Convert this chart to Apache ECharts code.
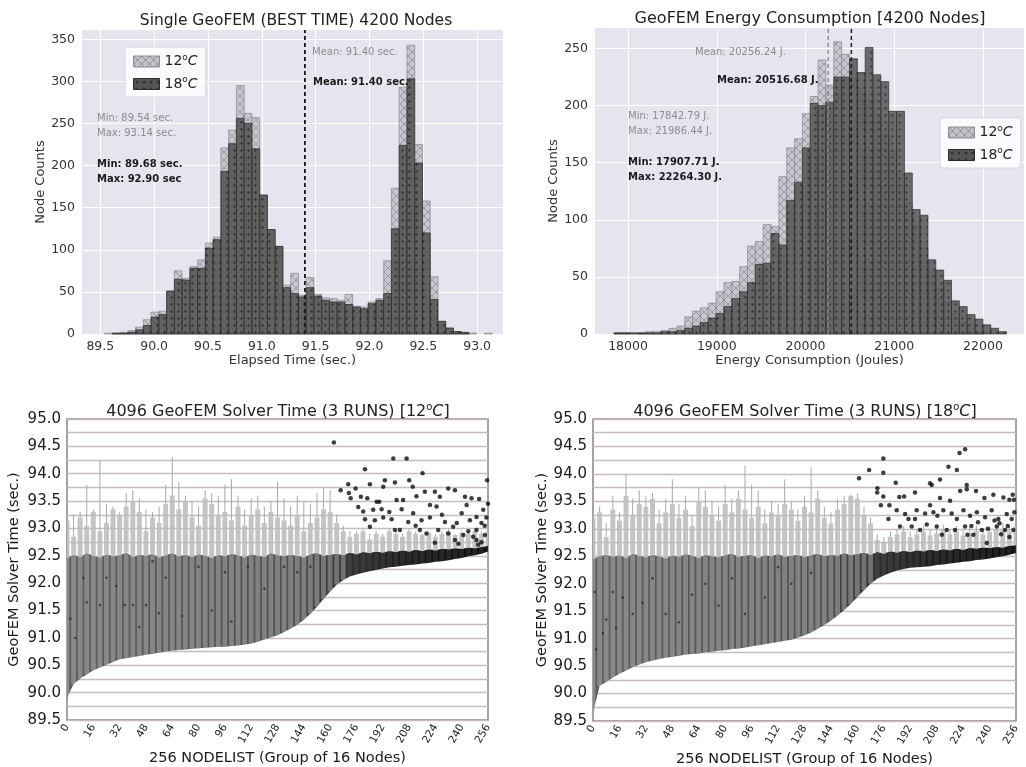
<!DOCTYPE html>
<html>
<head>
<meta charset="utf-8">
<title>GeoFEM node variability</title>
<script src="https://cdn.jsdelivr.net/npm/echarts@6/dist/echarts.min.js"></script>
<style>
  html, body { margin: 0; padding: 0; background: #fff; }
  #main { width: 1026px; height: 767px; }
</style>
</head>
<body>
<div id="main"></div>
<script>
// ---- histogram data (50 shared bins per panel) ----
const binCount = 50;
const timeRange = [89.54, 93.14];          // sec.
const energyRange = [17842.79, 22264.30];  // J.

const timeCount12 = [1, 1, 2, 4, 8, 17, 26, 27, 51, 75, 66, 80, 88, 108, 115, 221, 242, 295, 262, 257,
  165, 124, 104, 58, 72, 46, 67, 47, 43, 42, 40, 47, 33, 32, 38, 42, 87, 173, 293, 343,
  225, 158, 68, 15, 7, 3, 1, 1, 0, 1];
const timeCount18 = [0, 1, 1, 2, 5, 10, 20, 23, 51, 65, 64, 78, 78, 102, 112, 193, 226, 256, 250, 220,
  165, 124, 104, 55, 48, 44, 55, 45, 40, 38, 38, 35, 32, 30, 36, 40, 48, 125, 224, 303,
  203, 120, 41, 15, 7, 3, 2, 0, 0, 0];

const energyCount12 = [1, 1, 0, 1, 2, 2, 3, 5, 7, 15, 20, 23, 27, 37, 45, 46, 59, 77, 81, 96,
  94, 138, 163, 171, 193, 208, 240, 218, 256, 245, 225, 215, 205, 190, 175, 160, 140, 115, 95, 75,
  55, 40, 28, 18, 10, 5, 2, 0, 0, 0];
const energyCount18 = [1, 1, 1, 1, 1, 1, 2, 2, 3, 5, 7, 10, 14, 18, 24, 31, 37, 45, 61, 62,
  88, 78, 117, 133, 163, 202, 200, 203, 225, 225, 241, 229, 251, 227, 221, 195, 195, 141, 109, 104,
  65, 56, 47, 29, 24, 17, 13, 8, 5, 2];

const timeMean12 = 91.40, timeMean18 = 91.40;
const energyMean12 = 20256.24, energyMean18 = 20516.68;

const timeTicks = [89.5, 90.0, 90.5, 91.0, 91.5, 92.0, 92.5, 93.0];
const timeCountTicks = [0, 50, 100, 150, 200, 250, 300, 350];
const energyTicks = [18000, 19000, 20000, 21000, 22000];
const energyCountTicks = [0, 50, 100, 150, 200, 250];

// ---- solver time per node group (sampled every 4 groups) ----
const nodePos = [0, 4, 8, 12, 16, 20, 24, 28, 32, 36, 40, 44, 48, 52, 56, 60, 64, 68, 72, 76,
  80, 84, 88, 92, 96, 100, 104, 108, 112, 116, 120, 124, 128, 132, 136, 140, 144, 148, 152, 156,
  160, 164, 168, 172, 176, 180, 184, 188, 192, 196, 200, 204, 208, 212, 216, 220, 224, 228, 232, 236,
  240, 244, 248, 252, 256];

const low12 = [89.90, 90.16, 90.26, 90.33, 90.41, 90.46, 90.51, 90.56, 90.61, 90.63, 90.65, 90.67, 90.69, 90.71, 90.73, 90.75, 90.77, 90.78, 90.79, 90.80,
  90.81, 90.82, 90.83, 90.84, 90.84, 90.85, 90.86, 90.88, 90.90, 90.93, 90.97, 91.01, 91.05, 91.11, 91.17, 91.24, 91.33, 91.44, 91.57, 91.71,
  91.85, 91.97, 92.06, 92.12, 92.16, 92.19, 92.22, 92.24, 92.27, 92.29, 92.30, 92.32, 92.33, 92.34, 92.36, 92.37, 92.39, 92.40, 92.42, 92.44,
  92.46, 92.49, 92.51, 92.54, 92.58];
const mid12 = [92.46, 92.52, 92.48, 92.55, 92.50, 92.47, 92.53, 92.49, 92.51, 92.56, 92.48, 92.52, 92.50, 92.54, 92.47, 92.51, 92.55, 92.49, 92.52, 92.48,
  92.53, 92.50, 92.46, 92.52, 92.49, 92.54, 92.51, 92.47, 92.53, 92.50, 92.48, 92.55, 92.51, 92.49, 92.52, 92.50, 92.47, 92.53, 92.55, 92.50,
  92.52, 92.54, 92.51, 92.56, 92.53, 92.57, 92.55, 92.58, 92.56, 92.59, 92.57, 92.60, 92.58, 92.61, 92.59, 92.62, 92.60, 92.63, 92.62, 92.64,
  92.63, 92.65, 92.64, 92.66, 92.68];
const high12 = [93.15, 92.85, 93.20, 93.05, 93.30, 92.95, 93.10, 93.35, 93.25, 93.40, 93.50, 93.30, 92.95, 93.20, 93.10, 93.45, 93.60, 93.35, 93.50, 93.20,
  93.05, 93.55, 93.45, 93.25, 93.30, 93.15, 93.40, 93.05, 93.25, 93.35, 93.10, 93.30, 93.20, 93.15, 93.05, 93.25, 92.95, 93.10, 93.20, 93.35,
  93.30, 93.10, 92.95, 92.85, 92.90, 92.95, 92.80, 92.90, 92.85, 92.95, 92.90, 92.85, 92.95, 92.90, 92.88, 92.92, 92.85, 92.90, 92.95, 92.88,
  92.92, 92.90, 92.95, 92.90, 92.95];
const whisker12 = [93.20, 93.25, 93.30, 93.80, 93.35, 94.25, 93.45, 93.40, 93.30, 93.65, 93.70, 93.55, 93.35, 93.30, 93.40, 93.80, 94.30, 93.85, 93.60, 93.50,
  93.40, 93.70, 93.65, 93.60, 93.80, 93.90, 93.60, 93.35, 93.55, 93.60, 93.40, 93.50, 93.85, 93.55, 93.40, 93.60, 93.50, 93.45, 93.65, 93.75,
  93.70, 93.25, 93.05, 92.95, 92.95, 93.00, 92.90, 92.95, 92.90, 93.00, 92.95, 92.90, 93.00, 92.95, 92.90, 92.95, 92.90, 92.95, 93.00, 92.90,
  92.95, 92.95, 93.00, 92.95, 93.00];

const low18 = [89.65, 90.14, 90.21, 90.29, 90.36, 90.42, 90.48, 90.53, 90.57, 90.60, 90.63, 90.65, 90.67, 90.69, 90.71, 90.72, 90.73, 90.75, 90.76, 90.78,
  90.79, 90.81, 90.82, 90.84, 90.86, 90.88, 90.90, 90.92, 90.94, 90.96, 90.98, 91.02, 91.06, 91.11, 91.18, 91.25, 91.33, 91.42, 91.52, 91.63,
  91.76, 91.88, 92.00, 92.09, 92.15, 92.20, 92.24, 92.27, 92.29, 92.30, 92.31, 92.32, 92.34, 92.35, 92.37, 92.38, 92.40, 92.41, 92.43, 92.44,
  92.46, 92.48, 92.50, 92.53, 92.56];
const mid18 = [92.45, 92.50, 92.53, 92.49, 92.52, 92.47, 92.55, 92.51, 92.48, 92.53, 92.50, 92.46, 92.52, 92.49, 92.54, 92.51, 92.47, 92.53, 92.50, 92.48,
  92.52, 92.55, 92.49, 92.51, 92.53, 92.47, 92.52, 92.50, 92.54, 92.49, 92.51, 92.53, 92.48, 92.52, 92.55, 92.50, 92.53, 92.51, 92.56, 92.52,
  92.54, 92.57, 92.53, 92.58, 92.55, 92.59, 92.57, 92.60, 92.58, 92.61, 92.59, 92.62, 92.60, 92.63, 92.61, 92.64, 92.62, 92.65, 92.64, 92.66,
  92.65, 92.67, 92.66, 92.69, 92.70];
const high18 = [93.20, 93.30, 92.85, 93.35, 93.15, 93.60, 93.25, 93.45, 93.40, 93.55, 93.10, 93.30, 93.45, 93.20, 93.35, 93.05, 93.50, 93.40, 93.25, 93.15,
  93.45, 93.30, 93.55, 93.35, 93.20, 93.40, 93.10, 93.30, 93.25, 93.45, 93.35, 93.15, 93.40, 93.30, 93.55, 93.20, 93.10, 93.35, 93.45, 93.60,
  93.55, 93.25, 93.10, 92.80, 92.75, 92.85, 92.90, 92.95, 92.85, 92.90, 92.95, 92.88, 92.92, 92.98, 92.90, 92.95, 92.88, 92.92, 92.96, 92.90,
  92.94, 92.98, 93.00, 92.95, 93.05];
const whisker18 = [93.30, 93.40, 93.10, 93.60, 93.30, 94.00, 93.55, 93.70, 93.60, 93.65, 93.35, 93.55, 93.90, 93.45, 93.60, 93.25, 93.75, 93.70, 93.50, 93.40,
  93.80, 93.55, 93.70, 94.15, 93.80, 93.70, 93.35, 93.50, 93.45, 93.90, 93.50, 93.35, 93.60, 94.12, 93.70, 93.40, 93.30, 93.55, 93.60, 93.62,
  93.65, 93.40, 93.20, 92.90, 92.85, 92.95, 93.00, 93.05, 92.95, 93.00, 93.05, 92.98, 93.02, 93.08, 93.00, 93.05, 92.98, 93.02, 93.06, 93.00,
  93.04, 93.08, 93.10, 93.05, 93.15];

const outliers12 = [[162.3, 94.57], [198.4, 94.28], [206.5, 94.28], [181.2, 94.08], [216.2, 94.01], [255.5, 93.88], [184.2, 93.81], [192.3, 93.76],
  [199.4, 93.84], [208.1, 93.88], [210.2, 93.76], [166.4, 93.70], [171.0, 93.81], [175.5, 93.73], [171.4, 93.65], [178.7, 93.58], [172.5, 93.55],
  [182.6, 93.55], [188.3, 93.49], [189.9, 93.49], [200.4, 93.52], [204.4, 93.52], [212.5, 93.59], [217.6, 93.67], [223.7, 93.67], [226.7, 93.58],
  [231.8, 93.73], [235.9, 93.70], [242.0, 93.58], [246.0, 93.55], [250.6, 93.54], [177.1, 93.39], [180.1, 93.31], [186.2, 93.34], [191.3, 93.35],
  [181.2, 93.17], [187.2, 93.15], [192.3, 93.20], [203.5, 93.35], [210.5, 93.28], [215.6, 93.15], [220.7, 93.20], [224.7, 93.40], [229.8, 93.12],
  [234.8, 93.03], [240.0, 93.28], [245.0, 93.15], [249.0, 92.97], [253.1, 93.34], [254.1, 92.88], [199.4, 92.97], [202.4, 92.97], [207.5, 93.12],
  [214.6, 92.97], [218.6, 92.91], [223.7, 92.74], [235.9, 92.79], [241.0, 92.88], [249.0, 92.79], [184.2, 93.03], [197.4, 93.17], [225.7, 92.97],
  [231.8, 92.91], [249.0, 93.21], [243.0, 93.43], [220.7, 93.43], [193.3, 93.88], [252.0, 92.75], [254.0, 93.05], [250.0, 92.70], [255.0, 93.20],
  [247.0, 92.85], [244.0, 92.95], [238.0, 92.72], [252.0, 93.10], [228.0, 93.25], [237.0, 93.10], [212.0, 93.05], [196.0, 93.30], [256.0, 93.45]];
const outliers18 = [[225.2, 94.45], [221.8, 94.38], [175.7, 94.28], [215.1, 94.13], [220.2, 94.07], [167.1, 94.07], [175.7, 94.02], [161.0, 93.92],
  [210.0, 93.90], [183.2, 93.84], [204.0, 93.83], [205.0, 93.80], [172.1, 93.74], [172.0, 93.66], [194.9, 93.66], [185.4, 93.58], [188.3, 93.59],
  [175.7, 93.59], [226.2, 93.80], [226.2, 93.72], [231.8, 93.69], [242.3, 93.62], [248.4, 93.57], [254.0, 93.62], [254.8, 93.53], [252.0, 93.53],
  [236.9, 93.56], [222.2, 93.69], [210.0, 93.56], [216.1, 93.51], [174.2, 93.43], [179.4, 93.43], [183.8, 93.34], [188.9, 93.27], [190.9, 93.18],
  [195.9, 93.34], [201.0, 93.28], [204.0, 93.43], [206.0, 93.30], [208.4, 93.24], [212.0, 93.34], [217.1, 93.28], [220.2, 93.18], [224.2, 93.34],
  [228.2, 93.24], [232.3, 93.30], [237.3, 93.21], [241.3, 93.34], [245.3, 93.18], [250.4, 93.27], [253.4, 93.18], [178.8, 93.18], [185.8, 93.04],
  [192.9, 93.04], [197.9, 92.98], [202.0, 93.08], [208.0, 93.04], [214.1, 92.98], [219.1, 92.98], [225.2, 93.04], [230.2, 92.89], [235.3, 92.98],
  [238.3, 92.74], [244.4, 93.04], [249.4, 92.98], [254.4, 92.98], [194.9, 93.18], [211.1, 92.89], [226.6, 92.89], [246.0, 93.10], [251.0, 93.05],
  [255.0, 93.30], [243.0, 93.15], [239.0, 93.00], [233.0, 93.12], [229.0, 93.05], [247.0, 92.90], [252.0, 92.85]];

const inner12 = [[2, 91.35], [5, 91.0], [10, 92.1], [12, 91.65], [20, 91.6], [24, 92.1], [30, 91.95], [35, 91.6], [40, 91.6], [44, 91.2], [48, 91.6],
  [52, 92.4], [56, 91.45], [60, 92.1], [70, 91.4], [80, 92.3], [88, 91.5], [96, 92.2], [100, 91.3], [110, 92.3], [120, 91.9], [132, 92.3],
  [140, 92.2], [148, 92.3]];
const inner18 = [[1, 91.85], [2, 90.8], [6, 91.1], [8, 91.35], [12, 91.85], [14, 91.2], [18, 91.75], [24, 91.45], [30, 91.65], [36, 92.1],
  [44, 91.45], [52, 91.3], [60, 91.8], [68, 92.0], [76, 91.6], [84, 92.1], [92, 91.45], [104, 91.75], [112, 92.3], [120, 92.0], [132, 92.2]];

// ---- helpers ----
const FONT = 'DejaVu Sans';

function histData(range, counts) {
  const w = (range[1] - range[0]) / binCount;
  return counts.map((c, i) => [range[0] + i * w, range[0] + (i + 1) * w, c]);
}

function makeCross() {
  const c = document.createElement('canvas');
  c.width = 8; c.height = 8;
  const g = c.getContext('2d');
  g.fillStyle = '#c3c4ca';
  g.fillRect(0, 0, 8, 8);
  g.strokeStyle = '#8a8b92';
  g.lineWidth = 0.9;
  g.beginPath();
  g.moveTo(0, 0); g.lineTo(8, 8);
  g.moveTo(8, 0); g.lineTo(0, 8);
  g.stroke();
  return c;
}
function makeDots() {
  const c = document.createElement('canvas');
  c.width = 7; c.height = 7;
  const g = c.getContext('2d');
  g.fillStyle = '#555555';
  g.fillRect(0, 0, 7, 7);
  g.fillStyle = '#1c1c1c';
  g.beginPath();
  g.arc(3.5, 3.5, 1.15, 0, Math.PI * 2);
  g.fill();
  return c;
}
const fill12 = { image: makeCross(), repeat: 'repeat' };
const fill18 = { image: makeDots(), repeat: 'repeat' };

function renderHist(fill, stroke, opacity) {
  return function (params, api) {
    const c = api.value(2);
    if (!c) return null;
    const p0 = api.coord([api.value(0), c]);
    const p1 = api.coord([api.value(1), 0]);
    return {
      type: 'rect',
      shape: { x: p0[0], y: p0[1], width: p1[0] - p0[0], height: p1[1] - p0[1] },
      style: { fill: fill, stroke: stroke, lineWidth: 0.8, opacity: opacity }
    };
  };
}

// dark band between the sorted lower curve and the ~92.5 line
function renderBand(params, api) {
  if (params.dataIndexInside !== 0) return null;
  const top = [], bot = [];
  for (let i = 0; i < params.dataInsideLength; i++) {
    const x = api.value(0, i);
    top.push(api.coord([x, api.value(2, i)]));
    bot.push(api.coord([x, api.value(1, i)]));
  }
  return {
    type: 'polygon',
    shape: { points: top.concat(bot.reverse()) },
    style: {
      fill: new echarts.graphic.LinearGradient(0, 0, 1, 0, [
        { offset: 0, color: '#5c5c5c' },
        { offset: 0.55, color: '#4e4e4e' },
        { offset: 0.68, color: '#2c2c2c' },
        { offset: 0.8, color: '#191919' },
        { offset: 1, color: '#0c0c0c' }
      ])
    }
  };
}

// light bars + error whiskers for each node group
function renderColumn(params, api) {
  const x = api.value(0);
  const w = api.size([3.0, 0])[0];
  const pLow = api.coord([x, api.value(1)]);
  const pMid = api.coord([x, api.value(2)]);
  const pHigh = api.coord([x, api.value(3)]);
  const pWh = api.coord([x, api.value(4)]);
  const shade = x > 168 ? 0.1 : 0.4;
  return {
    type: 'group',
    children: [
      { type: 'rect', shape: { x: pLow[0] - w / 2, y: pMid[1], width: w, height: pLow[1] - pMid[1] },
        style: { fill: 'rgba(205,205,205,' + shade + ')' } },
      { type: 'rect', shape: { x: pHigh[0] - w / 2, y: pHigh[1], width: w, height: pMid[1] - pHigh[1] },
        style: { fill: 'rgba(188,188,188,0.88)' } },
      { type: 'line', shape: { x1: pWh[0], y1: pWh[1], x2: pHigh[0], y2: pHigh[1] },
        style: { stroke: '#a8a8a8', lineWidth: 1 } }
    ]
  };
}

function histAxisX(grid, min, max, ticks, name, digits) {
  return {
    type: 'value', gridIndex: grid, min: min, max: max,
    name: name, nameLocation: 'middle', nameGap: 19,
    nameTextStyle: { fontSize: 13, color: '#333', fontFamily: FONT },
    axisLine: { show: false }, axisTick: { show: false, customValues: ticks },
    axisLabel: { customValues: ticks, fontSize: 12.5, color: '#333', margin: 6, fontFamily: FONT,
      formatter: v => v.toFixed(digits) },
    splitLine: { show: true, lineStyle: { color: '#ffffff', width: 1 } }
  };
}
function histAxisY(grid, max, ticks) {
  return {
    type: 'value', gridIndex: grid, min: 0, max: max,
    name: 'Node Counts', nameLocation: 'middle', nameGap: 35,
    nameTextStyle: { fontSize: 13, color: '#333', fontFamily: FONT },
    axisLine: { show: false }, axisTick: { show: false, customValues: ticks },
    axisLabel: { customValues: ticks, fontSize: 12.5, color: '#333', margin: 7, fontFamily: FONT },
    splitLine: { show: true, lineStyle: { color: '#ffffff', width: 1 } }
  };
}
function solverAxisX(grid) {
  return {
    type: 'value', gridIndex: grid, min: 0, max: 256, interval: 16,
    name: '256 NODELIST (Group of 16 Nodes)', nameLocation: 'middle', nameGap: 31,
    nameTextStyle: { fontSize: 14.5, color: '#1a1a1a', fontFamily: FONT },
    axisLine: { show: false }, axisTick: { show: false },
    axisLabel: { rotate: 60, fontSize: 10.5, color: '#222', margin: 5, fontFamily: FONT },
    splitLine: { show: false }
  };
}
function solverAxisY(grid, gap) {
  // grid lines every 0.25 s, labels every 0.5 s
  return {
    type: 'value', gridIndex: grid, min: 89.5, max: 95.0, interval: 0.25,
    name: 'GeoFEM Solver Time (sec.)', nameLocation: 'middle', nameGap: gap,
    nameTextStyle: { fontSize: 14.5, color: '#1a1a1a', fontFamily: FONT },
    axisLine: { show: false }, axisTick: { show: false },
    axisLabel: { fontSize: 15, color: '#1a1a1a', margin: 6, fontFamily: FONT,
      formatter: v => (Math.abs(v * 2 - Math.round(v * 2)) < 1e-6 ? v.toFixed(1) : '') },
    splitLine: { show: true, lineStyle: { color: '#cbbcbc', width: 1.4 } }
  };
}

const legendRich = {
  sup: { fontSize: 9, padding: [0, 0, 8, 0], color: '#222', fontFamily: FONT },
  it: { fontSize: 14, fontStyle: 'italic', color: '#222', fontFamily: FONT }
};
function legendAt(left, top) {
  return {
    left: left, top: top, orient: 'vertical', icon: 'rect',
    itemWidth: 26, itemHeight: 11, itemGap: 7,
    padding: [6, 8, 6, 8],
    backgroundColor: 'rgba(255,255,255,0.85)', borderColor: '#d6d7de', borderWidth: 1, borderRadius: 3,
    selectedMode: false,
    data: [
      { name: '12°C', itemStyle: { color: fill12, borderColor: '#8a8b92', borderWidth: 1 } },
      { name: '18°C', itemStyle: { color: fill18, borderColor: '#2a2a2a', borderWidth: 1 } }
    ],
    formatter: name => name.replace('°C', '{sup|o}{it|C}'),
    textStyle: { fontSize: 14, color: '#222', fontFamily: FONT, rich: legendRich }
  };
}

const titleRich = {
  sup: { fontSize: 10, padding: [0, 0, 9, 0], color: '#222', fontFamily: FONT },
  it: { fontSize: 16, fontStyle: 'italic', color: '#222', fontFamily: FONT }
};
function titleAt(text, x, top, size) {
  return {
    text: text, left: x, top: top, textAlign: 'center', padding: 0,
    textStyle: { fontSize: size, fontWeight: 'normal', color: '#222', fontFamily: FONT, rich: titleRich }
  };
}

function note(text, left, top, color, bold) {
  return {
    type: 'text', left: left, top: top, z: 50,
    style: { text: text, fill: color, font: (bold ? 'bold ' : '') + '10px "DejaVu Sans"', lineHeight: 15 }
  };
}

const chart = echarts.init(document.getElementById('main'), null, { renderer: 'canvas' });

const option = {
  animation: false,
  backgroundColor: '#ffffff',
  textStyle: { fontFamily: FONT },
  title: [
    titleAt('Single GeoFEM (BEST TIME) 4200 Nodes', 296, 13, 15.5),
    titleAt('GeoFEM Energy Consumption [4200 Nodes]', 810, 11, 16),
    titleAt('4096 GeoFEM Solver Time (3 RUNS) [12{sup|o}{it|C}]', 278, 402, 16),
    titleAt('4096 GeoFEM Solver Time (3 RUNS) [18{sup|o}{it|C}]', 805, 402, 16)
  ],
  legend: [legendAt(125, 47), legendAt(940, 118)],
  grid: [
    { left: 82, top: 30, width: 421, height: 304, show: true, backgroundColor: '#e4e5ee', borderWidth: 0, outerBoundsMode: 'none' },
    { left: 595, top: 28, width: 429, height: 306, show: true, backgroundColor: '#e4e5ee', borderWidth: 0, outerBoundsMode: 'none' },
    { left: 67, top: 419, width: 421, height: 301, show: true, backgroundColor: '#ffffff', borderColor: '#8a8383', borderWidth: 1.5, outerBoundsMode: 'none' },
    { left: 593, top: 419, width: 423, height: 302, show: true, backgroundColor: '#ffffff', borderColor: '#8a8383', borderWidth: 1.5, outerBoundsMode: 'none' }
  ],
  xAxis: [
    histAxisX(0, 89.33, 93.24, timeTicks, 'Elapsed Time (sec.)', 1),
    histAxisX(1, 17628, 22462, energyTicks, 'Energy Consumption (Joules)', 0),
    solverAxisX(2),
    solverAxisX(3)
  ],
  yAxis: [
    histAxisY(0, 361, timeCountTicks),
    histAxisY(1, 268, energyCountTicks),
    solverAxisY(2, 45),
    solverAxisY(3, 43)
  ],
  graphic: { elements: [
    note('Mean: 91.40 sec.', 312, 45, '#8c8c8c', false),
    note('Mean: 91.40 sec.', 313, 75, '#1a1a1a', true),
    note('Min: 89.54 sec.\nMax: 93.14 sec.', 97, 111, '#8c8c8c', false),
    note('Min: 89.68 sec.\nMax: 92.90 sec', 97, 157, '#1a1a1a', true),
    note('Mean: 20256.24 J.', 695, 45, '#8c8c8c', false),
    note('Mean: 20516.68 J.', 717, 73, '#1a1a1a', true),
    note('Min: 17842.79 J.\nMax: 21986.44 J.', 628, 109, '#8c8c8c', false),
    note('Min: 17907.71 J.\nMax: 22264.30 J.', 628, 155, '#1a1a1a', true)
  ] },
  series: [
    // --- elapsed time histogram ---
    { type: 'custom', name: '12°C', xAxisIndex: 0, yAxisIndex: 0, data: histData(timeRange, timeCount12),
      encode: { x: [0, 1], y: 2 }, renderItem: renderHist(fill12, '#8a8b92', 0.9), itemStyle: { color: fill12 }, z: 2, silent: true },
    { type: 'custom', name: '18°C', xAxisIndex: 0, yAxisIndex: 0, data: histData(timeRange, timeCount18),
      encode: { x: [0, 1], y: 2 }, renderItem: renderHist(fill18, '#2a2a2a', 0.88), itemStyle: { color: fill18 }, z: 3, silent: true },
    { type: 'line', name: 'mean12t', xAxisIndex: 0, yAxisIndex: 0, data: [[timeMean12, 0], [timeMean12, 361]],
      symbol: 'none', lineStyle: { type: [4, 3], color: '#777', width: 1.6 }, z: 4, silent: true },
    { type: 'line', name: 'mean18t', xAxisIndex: 0, yAxisIndex: 0, data: [[timeMean18, 0], [timeMean18, 361]],
      symbol: 'none', lineStyle: { type: [4, 3], color: '#111', width: 1.6 }, z: 5, silent: true },
    // --- energy histogram ---
    { type: 'custom', name: '12°C', xAxisIndex: 1, yAxisIndex: 1, data: histData(energyRange, energyCount12),
      encode: { x: [0, 1], y: 2 }, renderItem: renderHist(fill12, '#8a8b92', 0.9), itemStyle: { color: fill12 }, z: 2, silent: true },
    { type: 'custom', name: '18°C', xAxisIndex: 1, yAxisIndex: 1, data: histData(energyRange, energyCount18),
      encode: { x: [0, 1], y: 2 }, renderItem: renderHist(fill18, '#2a2a2a', 0.85), itemStyle: { color: fill18 }, z: 3, silent: true },
    { type: 'line', name: 'mean12e', xAxisIndex: 1, yAxisIndex: 1, data: [[energyMean12, 0], [energyMean12, 268]],
      symbol: 'none', lineStyle: { type: [4, 3], color: '#8a8a8a', width: 1.4 }, z: 4, silent: true },
    { type: 'line', name: 'mean18e', xAxisIndex: 1, yAxisIndex: 1, data: [[energyMean18, 0], [energyMean18, 268]],
      symbol: 'none', lineStyle: { type: [4, 3], color: '#222', width: 1.5 }, z: 5, silent: true },
    // --- solver time 12C ---
    { type: 'custom', name: 'band12', xAxisIndex: 2, yAxisIndex: 2, clip: true, silent: true, z: 1,
      data: nodePos.map((x, i) => [x, low12[i], mid12[i]]), encode: { x: 0, y: [1, 2] }, renderItem: renderBand },
    { type: 'custom', name: 'bars12', xAxisIndex: 2, yAxisIndex: 2, clip: true, silent: true, z: 2,
      data: nodePos.map((x, i) => [x, low12[i], mid12[i], high12[i], whisker12[i]]), encode: { x: 0, y: [1, 4] }, renderItem: renderColumn },
    { type: 'scatter', name: 'inner12', xAxisIndex: 2, yAxisIndex: 2, data: inner12, symbolSize: 2.5,
      itemStyle: { color: '#2a2a2a' }, z: 3, silent: true },
    { type: 'scatter', name: 'out12', xAxisIndex: 2, yAxisIndex: 2, data: outliers12, symbolSize: 4.5,
      itemStyle: { color: '#0e0e0e' }, z: 4, silent: true },
    // --- solver time 18C ---
    { type: 'custom', name: 'band18', xAxisIndex: 3, yAxisIndex: 3, clip: true, silent: true, z: 1,
      data: nodePos.map((x, i) => [x, low18[i], mid18[i]]), encode: { x: 0, y: [1, 2] }, renderItem: renderBand },
    { type: 'custom', name: 'bars18', xAxisIndex: 3, yAxisIndex: 3, clip: true, silent: true, z: 2,
      data: nodePos.map((x, i) => [x, low18[i], mid18[i], high18[i], whisker18[i]]), encode: { x: 0, y: [1, 4] }, renderItem: renderColumn },
    { type: 'scatter', name: 'inner18', xAxisIndex: 3, yAxisIndex: 3, data: inner18, symbolSize: 2.5,
      itemStyle: { color: '#2a2a2a' }, z: 3, silent: true },
    { type: 'scatter', name: 'out18', xAxisIndex: 3, yAxisIndex: 3, data: outliers18, symbolSize: 4.5,
      itemStyle: { color: '#0e0e0e' }, z: 4, silent: true }
  ]
};

chart.setOption(option);
window.addEventListener('resize', () => chart.resize());
</script>
</body>
</html>
